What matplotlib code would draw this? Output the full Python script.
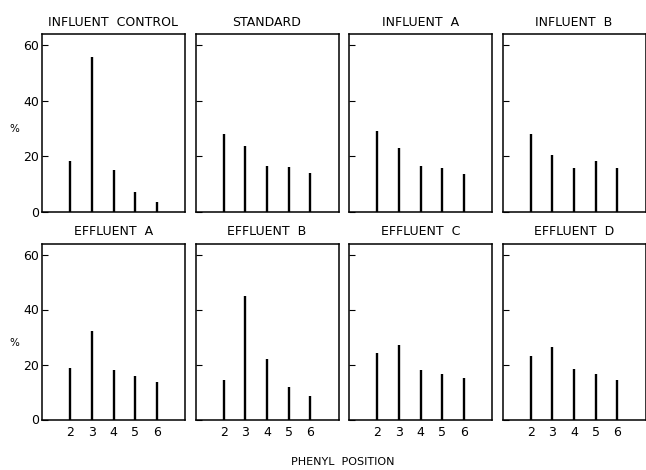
import matplotlib
matplotlib.use("Agg")
import matplotlib.pyplot as plt

# phenyl position distribution (%)
positions = [2, 3, 4, 5, 6]
panel_titles = ["INFLUENT  CONTROL", "STANDARD", "INFLUENT  A", "INFLUENT  B",
                "EFFLUENT  A", "EFFLUENT  B", "EFFLUENT  C", "EFFLUENT  D"]
influent_control = [18.4, 55.8, 15.0, 7.1, 3.6]
standard = [28.2, 23.6, 16.7, 16.1, 14.0]
influent_a = [29.1, 23.1, 16.6, 15.7, 13.6]
influent_b = [28.1, 20.5, 15.7, 18.3, 15.7]
effluent_a = [18.7, 32.3, 18.1, 15.9, 13.5]
effluent_b = [14.5, 44.8, 21.9, 11.7, 8.4]
effluent_c = [24.1, 27.1, 18.0, 16.6, 15.1]
effluent_d = [23.1, 26.5, 18.2, 16.6, 14.5]
series = [influent_control, standard, influent_a, influent_b,
          effluent_a, effluent_b, effluent_c, effluent_d]
y_ticks = [0, 20, 40, 60]

plt.rcParams['font.family'] = ['DejaVu Sans']

W, H = 646, 470
fig = plt.figure(figsize=(W / 100, H / 100), dpi=100)

lefts = [42, 195.5, 349, 502.5]
pw = 143
rows = [(34, 212), (243.5, 419.5)]  # top, bottom in pixels

for i, (title, vals) in enumerate(zip(panel_titles, series)):
    r, c = divmod(i, 4)
    top, bot = rows[r]
    ax = fig.add_axes([lefts[c] / W, (H - bot) / H, pw / W, (bot - top) / H])
    ax.vlines(positions, 0, vals, colors='black', linewidth=1.7)
    ax.set_xlim(0.7, 7.3)
    ax.set_ylim(0, 64)
    ax.set_title(title, fontsize=9, pad=6, fontweight='medium')
    for s in ax.spines.values():
        s.set_linewidth(1.1)
    ax.set_yticks(y_ticks)
    ax.tick_params(axis='y', direction='in', length=4, width=0.8, labelsize=9, pad=2)
    ax.tick_params(axis='x', length=0, labelsize=9, pad=5)
    if c != 0:
        ax.set_yticklabels([])
    if r == 1:
        ax.set_xticks(positions)
    else:
        ax.set_xticks([])

# the '%' unit label sits left of each row
fig.text(14 / W, 1 - 129 / H, "%", ha='center', va='center', fontsize=7.5)
fig.text(14 / W, 1 - 343 / H, "%", ha='center', va='center', fontsize=7.5)
fig.text(343 / W, 1 - 462 / H, "PHENYL  POSITION", ha='center', va='center', fontsize=8)

fig.savefig("out.png", dpi=100)
